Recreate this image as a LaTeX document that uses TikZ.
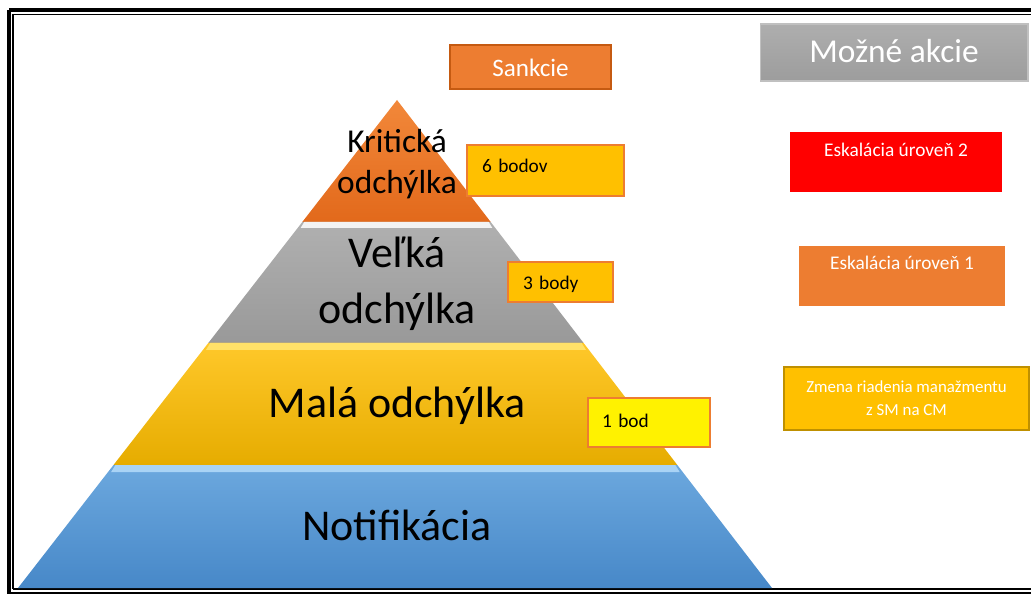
\documentclass[tikz,border=0pt]{standalone}
\usepackage{fontspec}
\setmainfont{Carlito}
\definecolor{orTop}{HTML}{F2883A}
\definecolor{orBot}{HTML}{E2691B}
\definecolor{grTop}{HTML}{B0B0B0}
\definecolor{grBot}{HTML}{999999}
\definecolor{goTop}{HTML}{FFC82A}
\definecolor{goBot}{HTML}{E6AC00}
\definecolor{blTop}{HTML}{6CA8DE}
\definecolor{blBot}{HTML}{4788C8}
\definecolor{accOrange}{HTML}{ED7D31}
\definecolor{accOrangeDk}{HTML}{C55A11}
\definecolor{accGold}{HTML}{FFC000}
\definecolor{accGoldDk}{HTML}{BF9000}
\definecolor{accGray}{HTML}{A5A5A5}
\definecolor{goStrip}{HTML}{FFE169}
\definecolor{blStrip}{HTML}{A9D3F5}
\begin{document}
\begin{tikzpicture}[x=0.02cm,y=-0.02cm,
  box/.style={inner sep=0pt, font=\fontsize{11}{13}\selectfont},
  layertext/.style={font=\fontsize{25}{32}\selectfont, align=center}]
\useasboundingbox (0,0) rectangle (1031,594);
% frame
\draw[line width=2.3pt] (9,10) -- (1040,10);
\draw[line width=2.3pt] (9,10) -- (9,600);
\draw[line width=2.3pt] (9,594) -- (1040,594);
\draw[line width=0.7pt] (13,14.5) -- (1040,14.5);
\draw[line width=0.7pt] (13,14.5) -- (13,589);
\draw[line width=0.7pt] (13,589) -- (1040,589);
% pyramid
\shade[top color=orTop, bottom color=orBot] (397,100) -- (490.7,222) -- (302.3,222) -- cycle;
\shade[top color=grTop, bottom color=grBot] (302.3,222) -- (490.7,222) -- (583.6,343) -- (208.3,343) -- cycle;
\fill[white, opacity=0.85] (304.3,222) -- (488.7,222) -- (492.3,228) -- (300.6,228) -- cycle;
\shade[top color=goTop, bottom color=goBot] (208.3,343) -- (583.6,343) -- (677.3,465) -- (113.5,465) -- cycle;
\fill[goStrip] (210.3,343) -- (581.6,343) -- (586,350) -- (205.9,350) -- cycle;
\shade[top color=blTop, bottom color=blBot] (113.5,465) -- (677.3,465) -- (772,588) -- (18,588) -- cycle;
\fill[blStrip] (115.5,465) -- (675.3,465) -- (679.7,472) -- (111.1,472) -- cycle;
% level labels
\node[layertext, font=\fontsize{19}{23}\selectfont] (krit) at (397,164) {Kritická\\odchýlka};
\node[layertext] (velka) at (397,284) {Veľká\\odchýlka};
\node[layertext, anchor=base] (mala) at (397,418) {Malá odchýlka};
\node[layertext, anchor=base] (notif) at (397,540) {Notifikácia};
% point boxes
\node[box, fill=accOrange, draw=accOrangeDk, line width=0.6pt, text=white, font=\fontsize{14.3}{16}\selectfont,
  minimum width=3.22cm, text height=0.64cm, text depth=0.24cm] (sankcie) at (530.5,67) {Sankcie};
\node[box, fill=accGold, draw=accOrange, line width=0.9pt, align=left, inner xsep=0.3cm, text width=2.54cm,
  text height=0.56cm, text depth=0.46cm] (bod6) at (545.5,170.5) {6 bodov};
\node[box, fill=accGold, draw=accOrange, line width=0.9pt, align=left, inner xsep=0.3cm, text width=1.5cm,
  text height=0.56cm, text depth=0.24cm] (bod3) at (560.5,282) {3 body};
\node[box, fill=yellow, draw=accOrange, line width=0.9pt, align=left, inner xsep=0.28cm, text width=1.88cm,
  text height=0.58cm, text depth=0.40cm] (bod1) at (649,422.5) {1 bod};
% actions
\node[box, top color=accGray!90!white, bottom color=accGray!95!black, draw=accGray!70!white, line width=0.6pt,
  text=white, font=\fontsize{19}{22}\selectfont,
  minimum width=5.36cm, text height=0.78cm, text depth=0.36cm] (akcie) at (894,52.5) {Možné akcie};
\node[box, fill=red, text=white, minimum width=4.24cm, text height=0.5cm, text depth=0.7cm] (esk2) at (896,162) {Eskalácia úroveň 2};
\node[box, fill=accOrange, text=white, minimum width=4.12cm, text height=0.48cm, text depth=0.72cm] (esk1) at (902,276) {Eskalácia úroveň 1};
\node[box, fill=accGold, draw=accGoldDk, line width=0.7pt, text=white, align=center, font=\fontsize{9.6}{13.1}\selectfont,
  minimum width=4.9cm, minimum height=1.26cm] (zmena) at (906.5,398.5) {Zmena riadenia manažmentu\\z SM na CM};
\end{tikzpicture}
\end{document}
